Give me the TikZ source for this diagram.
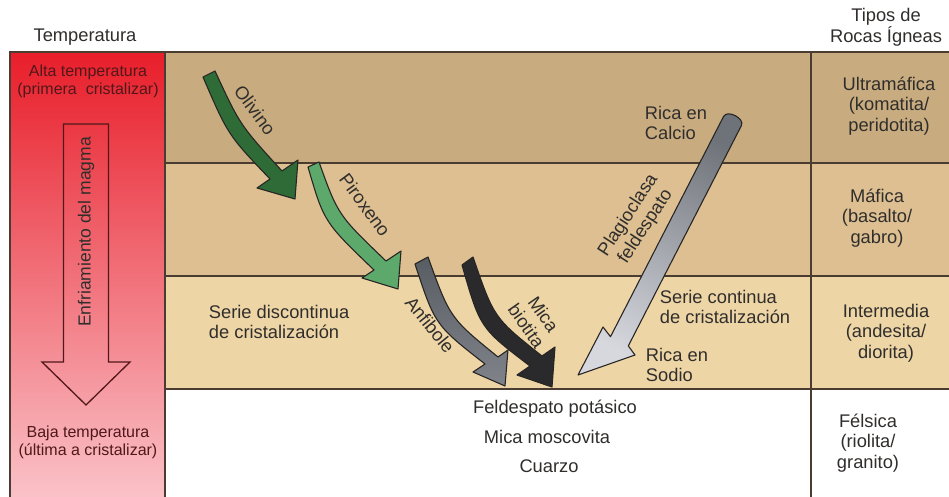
\documentclass[tikz,border=0pt]{standalone}
\usepackage{fontspec}
\setmainfont{Liberation Sans}
\definecolor{inkgray}{RGB}{48,46,44}
\definecolor{inkred}{RGB}{80,24,26}
\definecolor{frame}{RGB}{74,60,48}
\definecolor{edge}{RGB}{40,38,36}
\definecolor{rowone}{RGB}{200,172,128}
\definecolor{rowtwo}{RGB}{221,191,145}
\definecolor{rowthree}{RGB}{238,213,166}
\definecolor{redtop}{RGB}{232,30,42}
\definecolor{redmid}{RGB}{252,96,106}
\definecolor{redbot}{RGB}{250,194,200}
\definecolor{olivgreen}{RGB}{47,107,55}
\definecolor{piroxgreen}{RGB}{93,169,108}
\definecolor{anfdark}{RGB}{88,92,99}
\definecolor{anflight}{RGB}{128,132,138}
\definecolor{micablack}{RGB}{42,42,45}
\definecolor{plagdark}{RGB}{110,114,121}
\definecolor{plaglight}{RGB}{214,216,222}

\begin{document}
\begin{tikzpicture}[x=1pt,y=1pt,yscale=-1,xscale=1,
	lbl/.style={inner sep=0.75pt,text=inkgray,font=\fontsize{18.3}{20.6}\selectfont},
	redlbl/.style={inner sep=0.75pt,text=inkred,font=\fontsize{16}{18}\selectfont,align=center},
	grid/.style={draw=frame,line width=1.5pt},
	mineral/.style={draw=edge,line width=1.1pt,line join=round}]
			\useasboundingbox (0,0) rectangle (949,497);
			
			%Shape: rows
			\fill[rowone] (165,52) rectangle (949,163);
			\fill[rowtwo] (165,163) rectangle (949,276);
			\fill[rowthree] (165,276) rectangle (949,389);
			%Shape: temperature column
			\shade[top color=redtop,middle color=redmid,bottom color=redbot] (10,52) rectangle (165,497);
			
			%Straight Lines
			\draw[grid] (10,497) -- (10,52) -- (949,52);
			\draw[grid] (165,52) -- (165,497);
			\draw[grid] (811,52) -- (811,497);
			\draw[grid] (165,163) -- (949,163);
			\draw[grid] (165,276) -- (949,276);
			\draw[grid] (165,389) -- (949,389);
			
			%Shape: hollow arrow (cooling)
			\draw[draw=inkred,line width=1.3pt,line join=miter] (63.5,124) -- (108.5,124) -- (108.5,362) -- (130,362) -- (86,405) -- (42,362) -- (63.5,362) -- cycle;
			
			%Shape: Olivino arrow
			\draw[mineral,fill=olivgreen] (203,77) -- (215,71) .. controls (240,125) .. (282,171) -- (298,160) -- (295,199) -- (257,188) -- (270,179) .. controls (228,135) .. cycle;
			%Shape: Piroxeno arrow
			\draw[mineral,fill=piroxgreen] (308,167) -- (319,162) .. controls (338,215) .. (386,261) -- (401,251) -- (398,289) -- (362,278) -- (374,270) .. controls (324,222) .. cycle;
			%Shape: Anfibole arrow
			\draw[mineral,top color=anfdark,bottom color=anflight] (415,264) -- (428,257) .. controls (450,318) .. (498,357) -- (508,350) -- (505,386) -- (473,372) -- (485,364) .. controls (435,325) .. cycle;
			%Shape: Mica biotita arrow
			\draw[mineral,fill=micablack] (462,265) -- (473,257) .. controls (494,318) .. (542,356) -- (555,347) -- (552,387) -- (517,375) -- (530,366) .. controls (480,328) .. cycle;
			%Shape: Plagioclasa arrow
			\draw[mineral,top color=plagdark,bottom color=plaglight,shading angle=-27] (741.4,125.6) .. controls (745.1,118.5) and (727.3,109.3) .. (723.6,116.4) -- (610.5,336.7) -- (603,327) -- (578,375) -- (635,355) -- (628.3,345.9) -- cycle;
			
			% Text Node
			\draw (85,37) node (temphead) [lbl] {Temperatura};
			% Text Node
			\draw (886,27) node (rockhead) [lbl,align=center] {Tipos de\\Rocas Ígneas};
			% Text Node
			\draw (88,81) node (hightemp) [redlbl] {Alta temperatura\\(primera~ cristalizar)};
			% Text Node
			\draw (88,442) node (lowtemp) [redlbl] {Baja temperatura\\(última a cristalizar)};
			% Text Node
			\draw (86,232) node (cooling) [lbl,rotate=90,font=\fontsize{17.5}{20}\selectfont] {Enfriamiento del magma};
			
			% Text Node
			\draw (255,110) node (olivino) [lbl,rotate=-53.5] {Olivino};
			% Text Node
			\draw (365,205) node (piroxeno) [lbl,rotate=-53.5] {Piroxeno};
			% Text Node
			\draw (430,325) node (anfibole) [lbl,rotate=-51] {Anfibole};
			% Text Node
			\draw (535,320) node (biotita) [lbl,rotate=-55,align=center] {Mica\\biotita};
			% Text Node
			\draw (637,221) node (plagio) [lbl,rotate=57,align=center] {Plagioclasa\\feldespato};
			
			% Text Node
			\draw (644,123) node (calcio) [lbl,anchor=west,align=left] {Rica en\\Calcio};
			% Text Node
			\draw (659,307) node (continua) [lbl,anchor=west,align=left] {Serie continua\\de cristalización};
			% Text Node
			\draw (645,365) node (sodio) [lbl,anchor=west,align=left] {Rica en\\Sodio};
			% Text Node
			\draw (208,322) node (discont) [lbl,anchor=west,align=left] {Serie discontinua\\de cristalización};
			
			% Text Node
			\draw (555,409) node (feldk) [lbl] {Feldespato potásico};
			% Text Node
			\draw (547,437) node (moscov) [lbl] {Mica moscovita};
			% Text Node
			\draw (549,466) node (cuarzo) [lbl] {Cuarzo};
			
			% Text Node
			\draw (889,106) node (ultra) [lbl,align=center] {Ultramáfica\\(komatita/\\peridotita)};
			% Text Node
			\draw (877,218) node (mafica) [lbl,align=center] {Máfica\\(basalto/\\gabro)};
			% Text Node
			\draw (886,333) node (interm) [lbl,align=center] {Intermedia\\(andesita/\\diorita)};
			% Text Node
			\draw (868,443) node (felsica) [lbl,align=center] {Félsica\\(riolita/\\granito)};
			
\end{tikzpicture}
\end{document}
